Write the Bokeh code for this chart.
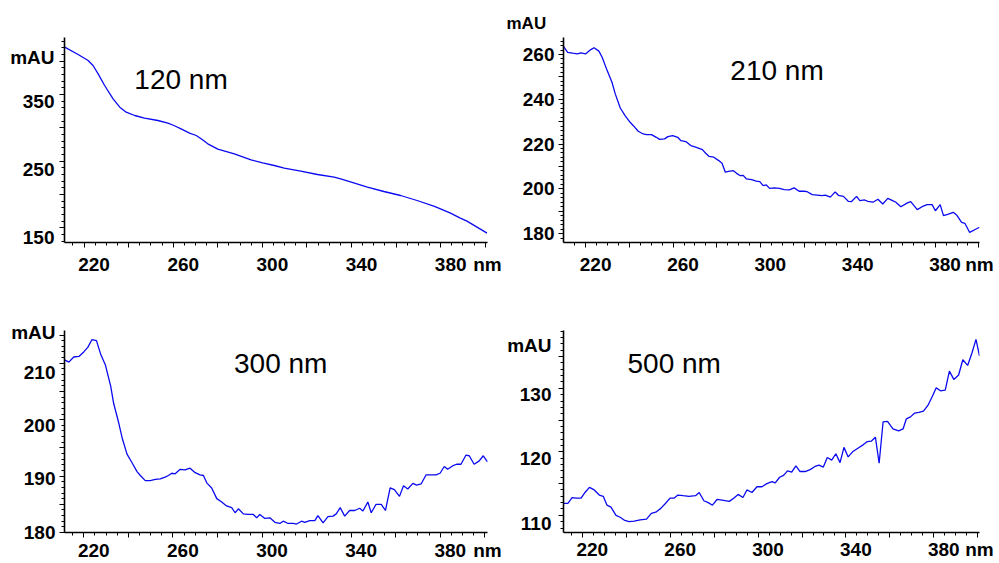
from bokeh.plotting import figure
from bokeh.models import Range1d, LinearAxis, FixedTicker, CustomJSTickFormatter, Label, Title
from bokeh.layouts import gridplot
from bokeh.embed import file_html
from bokeh.resources import INLINE

FONT = "Liberation Sans"
TRACE_BLUE = "#0a0af0"

# ---- UV spectra (wavelength in nm, absorbance in mAU) ----
wl_120 = [211.3, 217.3, 221.8, 224.0, 226.3, 229.2, 233.0, 236.0, 238.9, 242.7,
          247.1, 253.1, 257.6, 260.3, 263.5, 267.3, 270.3, 272.5, 275.5, 280.0,
          287.4, 294.9, 300.1, 305.3, 309.8, 317.2, 324.7, 332.2, 335.1, 339.9,
          347.1, 354.5, 362.0, 369.4, 376.9, 379.9, 384.4, 388.8, 391.8, 396.3,
          400.8]
mau_120 = [421, 410, 401, 393.5, 381, 363.5, 343.5, 331, 323.5, 318.5,
           314.5, 311, 307, 303.5, 298.5, 292, 288.5, 283.5, 276, 268,
           261, 252, 247.5, 243.5, 239.5, 235, 230, 226, 223.5, 218.5,
           211, 204.5, 198.5, 191, 182.5, 178.5, 172, 164.5, 160, 151,
           142]

wl_210 = [209.8, 211.7, 214.0, 216.2, 217.7, 220.0, 222.3, 223.8, 226.0, 227.5,
          229.8, 232.0, 233.5, 235.8, 238.0, 240.3, 241.8, 244.0, 246.3, 247.8,
          250.1, 252.3, 253.8, 256.1, 257.6, 259.8, 262.1, 263.6, 265.8, 268.1,
          270.3, 273.4, 274.9, 276.4, 278.6, 280.9, 282.4, 283.9, 285.4, 287.6,
          289.1, 290.6, 292.1, 293.6, 295.9, 298.1, 299.7, 301.2, 302.7, 304.2,
          306.4, 308.7, 310.9, 313.2, 315.4, 317.7, 319.9, 321.4, 323.7, 326.0,
          328.2, 329.7, 332.0, 334.2, 335.7, 338.0, 340.2, 341.7, 344.0, 345.5,
          347.7, 349.2, 351.5, 353.8, 356.0, 358.3, 360.5, 362.0, 364.3, 367.3,
          368.8, 371.8, 374.0, 376.3, 378.6, 380.1, 382.3, 383.8, 386.1, 388.3,
          389.8, 392.1, 393.6, 395.8, 398.1, 400.3]
mau_210 = [263.6, 261.0, 260.6, 260.3, 260.7, 260.3, 262.2, 263.0, 261.5, 258.8,
           252.8, 247.6, 242.4, 236.1, 232.7, 229.7, 228.2, 225.7, 224.5, 224.2,
           224.2, 223.0, 222.1, 222.3, 223.3, 223.8, 223.0, 221.5, 221.1, 219.3,
           218.6, 217.5, 215.9, 214.5, 214.1, 212.6, 211.4, 207.4, 207.8, 208.1,
           206.9, 205.9, 206.0, 204.4, 204.1, 203.4, 203.2, 201.4, 201.7, 200.2,
           200.4, 200.2, 199.6, 199.5, 200.4, 198.9, 198.9, 198.7, 197.4, 197.2,
           196.9, 197.2, 196.3, 198.6, 197.1, 196.6, 194.4, 194.3, 196.6, 194.7,
           195.0, 194.4, 194.0, 195.3, 193.2, 195.7, 194.7, 194.0, 192.0, 193.7,
           194.3, 190.7, 192.0, 192.9, 192.9, 190.2, 192.9, 188.0, 188.7, 189.5,
           188.3, 185.0, 184.6, 180.5, 181.7, 182.8]

wl_300 = [211.4, 213.3, 215.5, 217.8, 220.0, 221.8, 223.7, 225.7, 227.5, 229.7,
          232.1, 233.4, 235.7, 237.2, 239.4, 241.6, 243.9, 245.4, 247.6, 249.8,
          252.1, 254.3, 256.5, 258.0, 259.5, 261.0, 263.3, 265.5, 267.7, 270.0,
          272.2, 273.7, 275.2, 277.4, 279.7, 281.9, 284.1, 286.4, 287.9, 289.4,
          291.6, 293.8, 296.1, 297.6, 299.0, 301.3, 303.5, 305.8, 308.0, 309.5,
          311.7, 314.0, 315.5, 317.7, 319.2, 321.4, 323.7, 325.1, 327.4, 329.6,
          331.9, 333.3, 335.1, 337.1, 339.3, 341.6, 343.8, 345.3, 347.5, 349.0,
          351.2, 353.5, 355.4, 357.5, 359.4, 361.7, 363.5, 365.4, 367.7, 369.4,
          371.4, 373.6, 375.9, 378.1, 379.9, 381.8, 383.3, 385.5, 387.3, 389.3,
          391.5, 393.0, 395.2, 397.5, 399.3, 401.2]
mau_300 = [210.6, 210.2, 211.1, 211.2, 212.0, 212.8, 214.2, 214.0, 211.7, 209.7,
           205.9, 202.9, 199.4, 196.8, 193.9, 192.4, 190.8, 190.1, 189.2, 189.2,
           189.4, 189.5, 189.8, 190.1, 190.5, 190.4, 191.2, 191.1, 191.4, 190.6,
           190.2, 190.1, 188.8, 187.9, 186.0, 185.4, 184.7, 184.4, 183.5, 184.2,
           183.3, 183.2, 183.2, 182.6, 183.2, 182.5, 182.6, 181.8, 181.6, 182.0,
           181.6, 181.6, 181.5, 182.0, 181.8, 182.1, 182.1, 183.0, 181.7, 182.8,
           182.9, 183.3, 184.4, 182.9, 183.9, 183.9, 184.3, 183.8, 185.4, 183.5,
           185.0, 185.0, 183.9, 187.9, 187.6, 186.4, 188.3, 187.7, 188.7, 188.4,
           188.6, 190.2, 190.2, 190.2, 190.5, 191.7, 191.2, 191.8, 192.1, 192.1,
           193.7, 193.6, 192.1, 192.7, 193.6, 192.5]

wl_500 = [211.4, 213.4, 215.3, 217.1, 219.4, 221.2, 223.2, 225.4, 227.7, 229.5,
          231.2, 233.0, 235.3, 237.2, 239.3, 241.3, 243.6, 246.3, 249.2, 251.4,
          253.4, 255.7, 257.9, 259.9, 261.7, 263.5, 265.9, 268.5, 271.5, 273.2,
          275.3, 277.3, 279.2, 281.3, 283.6, 286.9, 288.9, 290.9, 293.1, 294.9,
          297.2, 299.5, 301.7, 304.0, 306.3, 307.8, 309.8, 311.6, 313.4, 315.3,
          317.2, 319.1, 321.4, 323.7, 325.9, 327.7, 329.7, 331.5, 333.5, 335.4,
          337.3, 339.1, 341.0, 343.0, 345.6, 347.8, 349.6, 351.6, 353.4, 355.1,
          356.9, 358.9, 361.4, 364.0, 366.0, 367.5, 369.4, 371.3, 373.2, 375.3,
          377.3, 379.3, 381.1, 383.0, 385.2, 387.1, 389.1, 391.3, 393.2, 395.4,
          397.4, 399.2, 400.8]
mau_500 = [111.9, 111.9, 112.8, 112.7, 112.7, 113.6, 114.4, 114.0, 113.2, 113.0,
           111.6, 111.3, 110.0, 109.7, 109.2, 109.0, 109.1, 109.3, 109.4, 110.3,
           110.5, 111.1, 111.9, 112.7, 112.7, 113.2, 113.1, 113.0, 113.1, 113.6,
           112.3, 112.0, 111.6, 112.5, 112.4, 112.2, 112.7, 113.3, 112.8, 114.0,
           113.6, 114.5, 114.5, 115.0, 115.3, 115.1, 116.0, 116.3, 117.0, 116.8,
           117.8, 116.9, 116.9, 117.2, 117.7, 117.9, 117.6, 119.1, 118.7, 119.7,
           118.3, 120.7, 119.2, 120.0, 120.6, 121.1, 121.6, 121.7, 122.3, 118.2,
           124.7, 124.8, 123.6, 123.3, 123.6, 125.2, 125.5, 126.1, 126.2, 126.4,
           127.3, 128.7, 130.1, 129.6, 129.7, 132.7, 131.4, 132.1, 134.5, 133.6,
           135.6, 137.7, 135.1]

# ---- ticks ----
x_label_ticks = [220, 260, 300, 340, 380]
x_major_ticks = [220, 240, 260, 280, 300, 320, 340, 360, 380, 400]
x_minor_ticks = list(range(215, 401, 5))

y_major_120 = [150, 200, 250, 300, 350, 400]
y_labels_120 = [150, 250, 350]
y_minor_120 = list(range(130, 436, 10))

y_major_210 = [180, 190, 200, 210, 220, 230, 240, 250, 260]
y_labels_210 = [180, 200, 220, 240, 260]
y_minor_210 = list(range(178, 268, 2))

y_major_300 = [180, 185, 190, 195, 200, 205, 210, 215]
y_labels_300 = [180, 190, 200, 210]
y_minor_300 = list(range(180, 216, 1))

y_major_500 = [110, 115, 120, 125, 130, 135]
y_labels_500 = [110, 120, 130]
y_minor_500 = list(range(108, 140, 1))

TICK_STYLE = dict(axis_line_color="black", axis_line_width=1.6,
                  major_tick_line_color="black", minor_tick_line_color="black",
                  major_tick_line_width=1, minor_tick_line_width=1,
                  major_tick_in=0, minor_tick_in=0,
                  major_tick_out=5, minor_tick_out=3)
LABEL_STYLE = dict(axis_line_color=None, major_tick_line_color=None,
                   minor_tick_line_color=None, major_tick_out=0, major_tick_in=0,
                   minor_tick_out=0, minor_tick_in=0,
                   major_label_text_font=FONT, major_label_text_font_style="bold",
                   major_label_text_font_size="19px", major_label_text_color="black")


def ticks_only(ticker):
    # axis that draws the line and tick marks, without any text
    return LinearAxis(ticker=ticker, formatter=CustomJSTickFormatter(code="return ''"),
                      major_label_text_font_size="0px", major_label_standoff=0,
                      **TICK_STYLE)


def spectrum_panel(wl, mau, title, x_rng, y_rng, y_major, y_labels, y_minor,
                   size, borders, title_at, x_lab_standoff, y_lab_standoff,
                   y_drop_top, y_drop_bottom, mau_from_top):
    width, height = size
    b_left, b_right, b_top, b_bottom = borders
    p = figure(width=width, height=height, output_backend="svg",
               toolbar_location=None, x_axis_type=None, y_axis_type=None,
               x_range=Range1d(*x_rng), y_range=Range1d(*y_rng),
               min_border_left=b_left, min_border_right=b_right,
               min_border_top=b_top, min_border_bottom=b_bottom)
    p.outline_line_color = None
    p.background_fill_color = "white"
    p.border_fill_color = "white"

    frame_w = width - b_left - b_right
    frame_h = height - b_top - b_bottom
    x_per_px = (x_rng[1] - x_rng[0]) / frame_w
    y_per_px = (y_rng[1] - y_rng[0]) / frame_h

    # wavelength labels sit a little to the right of their tick marks
    dx = 10 * x_per_px
    p.extra_x_ranges = {"lab": Range1d(x_rng[0] - dx, x_rng[1] - dx)}
    nm_tick = round(x_rng[1] - dx - 0.02, 2)
    p.add_layout(ticks_only(FixedTicker(ticks=x_major_ticks, minor_ticks=x_minor_ticks)), "below")
    p.add_layout(LinearAxis(x_range_name="lab",
                            ticker=FixedTicker(ticks=x_label_ticks + [nm_tick]),
                            major_label_overrides={nm_tick: "nm"},
                            major_label_standoff=x_lab_standoff, **LABEL_STYLE), "below")

    # absorbance labels hang slightly below their tick marks
    lab_lo = y_rng[0] + y_drop_bottom * y_per_px
    lab_hi = y_rng[1] + y_drop_top * y_per_px
    p.extra_y_ranges = {"lab": Range1d(lab_lo, lab_hi)}
    p.add_layout(ticks_only(FixedTicker(ticks=y_major, minor_ticks=y_minor)), "left")
    y_ticks = list(y_labels)
    overrides = {}
    if mau_from_top is not None:
        mau_tick = round(lab_hi - mau_from_top * (lab_hi - lab_lo) / frame_h, 3)
        y_ticks.append(mau_tick)
        overrides[mau_tick] = "mAU"
    p.add_layout(LinearAxis(y_range_name="lab", ticker=FixedTicker(ticks=y_ticks),
                            major_label_overrides=overrides,
                            major_label_standoff=y_lab_standoff, **LABEL_STYLE), "left")

    p.line(wl, mau, line_color=TRACE_BLUE, line_width=1.3)

    p.add_layout(Label(x=title_at[0], y=title_at[1], text=title,
                       text_font=FONT, text_font_size="28px", text_color="black",
                       text_align="center", text_baseline="middle"))
    return p


p1 = spectrum_panel(wl_120, mau_120, "120 nm", (211.2, 401.0), (128.0, 435.5),
                    y_major_120, y_labels_120, y_minor_120,
                    (504, 280), (63, 17, 37, 38), (263.5, 372.5),
                    6, 5, 5, 10, 20)
p2 = spectrum_panel(wl_210, mau_210, "210 nm", (209.8, 400.3), (176.0, 267.6),
                    y_major_210, y_labels_210, y_minor_210,
                    (495, 280), (53, 20, 37, 38), (307.6, 252.8),
                    6, 4, 0, 0, None)
p2.add_layout(Title(text="mAU", align="left", offset=-57, standoff=10,
                    text_font=FONT, text_font_style="bold", text_font_size="17px",
                    text_color="black"), "above")
p3 = spectrum_panel(wl_300, mau_300, "300 nm", (211.35, 401.2), (180.0, 215.8),
                    y_major_300, y_labels_300, y_minor_300,
                    (504, 283), (64, 16, 50, 29), (308.4, 210.0),
                    2, 4, 11.4, -0.1, 2)
p4 = spectrum_panel(wl_500, mau_500, "500 nm", (211.4, 400.8), (107.3, 139.1),
                    y_major_500, y_labels_500, y_minor_500,
                    (495, 283), (58, 19, 49, 28), (261.8, 133.9),
                    1, 7, 6, 8, 15)

grid = gridplot([[p1, p2], [p3, p4]], toolbar_location=None)
open("out.html", "w").write(file_html(grid, INLINE))
